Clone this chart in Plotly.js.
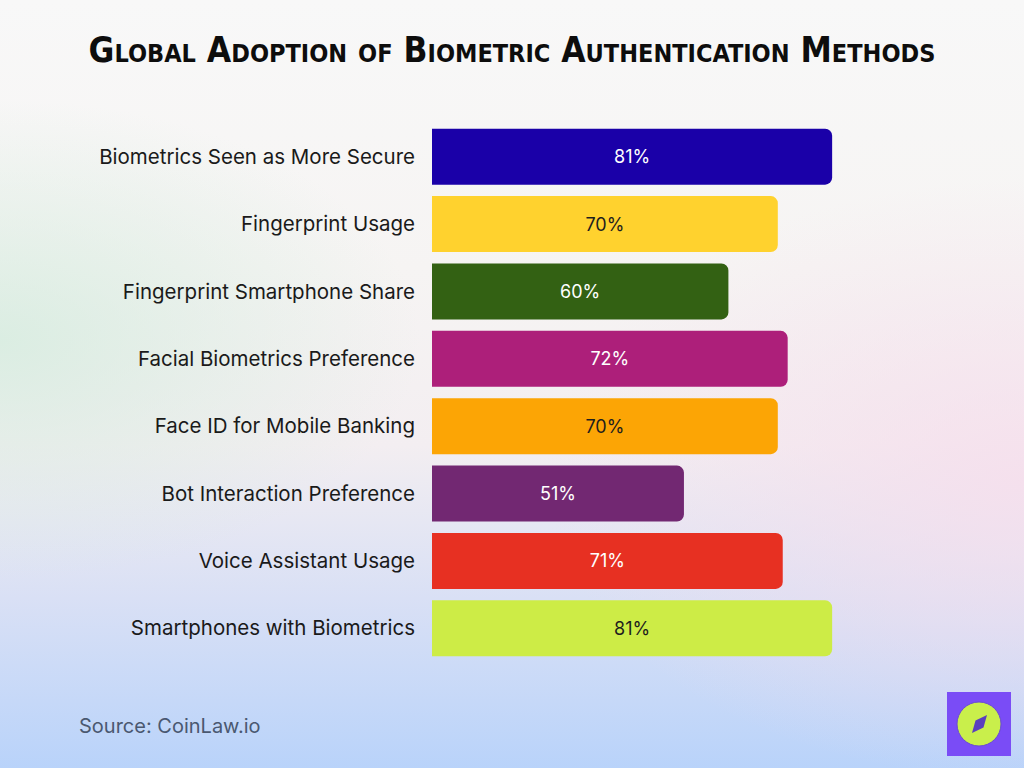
<!DOCTYPE html>
<html>
<head>
<meta charset="utf-8">
<script src="https://cdn.plot.ly/plotly-3.0.1.min.js"></script>
<style>
  html, body { margin: 0; padding: 0; width: 1024px; height: 768px; overflow: hidden; }
  body {
    background:
      radial-gradient(ellipse 420px 240px at 0px 340px, rgba(212,236,222,0.8), rgba(212,236,222,0) 100%),
      radial-gradient(ellipse 480px 300px at 1024px 480px, rgba(246,222,236,0.85), rgba(246,222,236,0) 100%),
      linear-gradient(to bottom, #f8f8f8 0%, #f6f4f3 35%, #f3eef1 58%, #d9e0f5 78%, #b9d3fa 100%);
  }
  #chart { width: 1024px; height: 768px; }
</style>
</head>
<body>
<div id="chart"></div>
<script>
const categories = [
  "Biometrics Seen as More Secure",
  "Fingerprint Usage",
  "Fingerprint Smartphone Share",
  "Facial Biometrics Preference",
  "Face ID for Mobile Banking",
  "Bot Interaction Preference",
  "Voice Assistant Usage",
  "Smartphones with Biometrics"
];
const values = [81, 70, 60, 72, 70, 51, 71, 81];
const valueLabels = ["81%", "70%", "60%", "72%", "70%", "51%", "71%", "81%"];
const barColors = ["#1a00a8", "#ffd22e", "#336113", "#ad1f7a", "#fca505", "#722872", "#e73022", "#cdec46"];
const labelColors = ["#ffffff", "#1e1e1e", "#ffffff", "#ffffff", "#1e1e1e", "#ffffff", "#ffffff", "#1e1e1e"];

const trace = {
  type: "bar",
  orientation: "h",
  x: values,
  y: categories,
  text: valueLabels,
  textposition: "inside",
  insidetextanchor: "middle",
  textangle: 0,
  textfont: { family: "Inter, 'Noto Sans', sans-serif", size: 18, color: labelColors },
  marker: { color: barColors, line: { width: 0 } },
  hoverinfo: "skip",
  cliponaxis: false
};

const layout = {
  width: 1024,
  height: 768,
  margin: { l: 432, r: 98, t: 123, b: 106 },
  paper_bgcolor: "rgba(0,0,0,0)",
  plot_bgcolor: "rgba(0,0,0,0)",
  showlegend: false,
  bargap: 0.17,
  barcornerradius: 7,
  title: {
    text: "Global Adoption of Biometric Authentication Methods",
    font: { family: "'DejaVu Sans Condensed', 'DejaVu Sans', sans-serif", size: 35, weight: "bold", color: "#0d0d0d", variant: "small-caps" },
    x: 0.5, xanchor: "center", xref: "container",
    y: 0.935, yref: "container", yanchor: "middle"
  },
  xaxis: {
    range: [0, 100],
    visible: false,
    fixedrange: true
  },
  yaxis: {
    autorange: "reversed",
    showline: false,
    showgrid: false,
    zeroline: false,
    ticks: "",
    ticklabelstandoff: 16,
    tickfont: { family: "Inter, 'Noto Sans', sans-serif", size: 20.5, color: "#1a1a1a" },
    fixedrange: true
  },
  annotations: [
    {
      text: "Source: CoinLaw.io",
      xref: "paper", yref: "paper",
      x: -0.7186, y: -0.118,
      xanchor: "left", yanchor: "middle",
      showarrow: false,
      font: { family: "Inter, 'Noto Sans', sans-serif", size: 20, color: "#4a5870" }
    }
  ],
  shapes: [
    { type: "rect", xref: "paper", yref: "paper", xsizemode: "pixel", ysizemode: "pixel",
      xanchor: 1.0, yanchor: 0, x0: 21, x1: 85, y0: -30, y1: -94,
      fillcolor: "#7a4cf6", line: { width: 0 } },
    { type: "circle", xref: "paper", yref: "paper", xsizemode: "pixel", ysizemode: "pixel",
      xanchor: 1.0, yanchor: 0, x0: 31, x1: 75, y0: -40, y1: -84,
      fillcolor: "#c9ef4b", line: { color: "#6a4bd0", width: 1 } },
    { type: "path", xref: "paper", yref: "paper", xsizemode: "pixel", ysizemode: "pixel",
      xanchor: 1.0, yanchor: 0,
      path: "M 61,-53 L 49.5,-58.5 L 46,-71 L 57.5,-65.5 Z",
      fillcolor: "#5a3fbe", line: { width: 0 } }
  ]
};

Plotly.newPlot("chart", [trace], layout, { displayModeBar: false, staticPlot: true });
</script>
</body>
</html>
